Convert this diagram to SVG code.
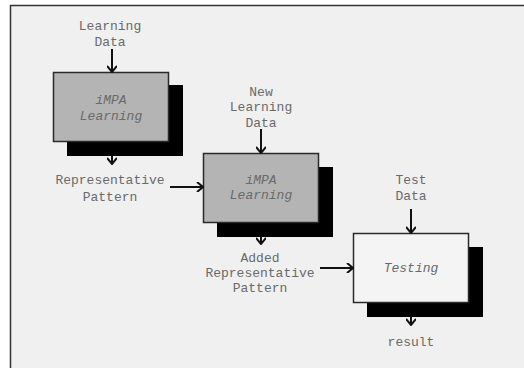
<svg xmlns="http://www.w3.org/2000/svg" width="524" height="368" viewBox="0 0 524 368">
<defs>
<style>
.t{font-family:"Liberation Mono","Courier New",monospace;font-size:13px;fill:#6a6a6a;text-anchor:middle}
.ti{font-style:italic}
.sh{fill:#000}
.box{stroke:#2a2a2a;stroke-width:1.5}
.c{stroke:#111;stroke-width:2;fill:none}
</style>
<marker id="ah" viewBox="0 0 10 10" refX="9" refY="5" markerWidth="10" markerHeight="10" markerUnits="userSpaceOnUse" orient="auto">
<path d="M3,0 L9,5 L3,10" fill="none" stroke="#111" stroke-width="2"/>
</marker>
</defs>
<rect x="0" y="0" width="524" height="368" fill="#fff"/>
<rect x="10" y="5" width="514" height="363" fill="#f0f0f0"/>
<path d="M10.5,368 V5.5 H524" fill="none" stroke="#333" stroke-width="1.5"/>

<g id="learning1">
<rect class="sh" x="67" y="85" width="116" height="71"/>
<rect class="box" x="53.5" y="72.5" width="115" height="69" fill="#b4b4b4"/>
<text class="t ti" x="111" y="104">iMPA</text>
<text class="t ti" x="111" y="120">Learning</text>
</g>
<g id="learning2">
<rect class="sh" x="217" y="167" width="116" height="70"/>
<rect class="box" x="203.5" y="153.5" width="115" height="69" fill="#b4b4b4"/>
<text class="t ti" x="261" y="184">iMPA</text>
<text class="t ti" x="261" y="199">Learning</text>
</g>
<g id="testing">
<rect class="sh" x="367" y="247" width="116" height="70"/>
<rect class="box" x="353.5" y="233.5" width="115" height="69" fill="#f4f4f4"/>
<text class="t ti" x="411" y="272">Testing</text>
</g>
<g id="labels">
<text class="t" x="110" y="30">Learning</text>
<text class="t" x="110" y="46">Data</text>
<text class="t" x="110" y="184">Representative</text>
<text class="t" x="110" y="201">Pattern</text>
<text class="t" x="261" y="96">New</text>
<text class="t" x="261" y="111">Learning</text>
<text class="t" x="261" y="127">Data</text>
<text class="t" x="260" y="262">Added</text>
<text class="t" x="260" y="277">Representative</text>
<text class="t" x="260" y="292">Pattern</text>
<text class="t" x="411" y="184">Test</text>
<text class="t" x="411" y="200">Data</text>
<text class="t" x="411" y="346">result</text>
</g>
<g id="connectors">
<line class="c" x1="112" y1="49" x2="112" y2="72" marker-end="url(#ah)"/>
<line class="c" x1="112" y1="156" x2="112" y2="164" marker-end="url(#ah)"/>
<line class="c" x1="170" y1="187" x2="203" y2="187" marker-end="url(#ah)"/>
<line class="c" x1="261" y1="129" x2="261" y2="153" marker-end="url(#ah)"/>
<line class="c" x1="261" y1="237" x2="261" y2="244" marker-end="url(#ah)"/>
<line class="c" x1="320" y1="268" x2="353" y2="268" marker-end="url(#ah)"/>
<line class="c" x1="411" y1="209" x2="411" y2="233" marker-end="url(#ah)"/>
<line class="c" x1="411" y1="317" x2="411" y2="325" marker-end="url(#ah)"/>
</g>
</svg>
